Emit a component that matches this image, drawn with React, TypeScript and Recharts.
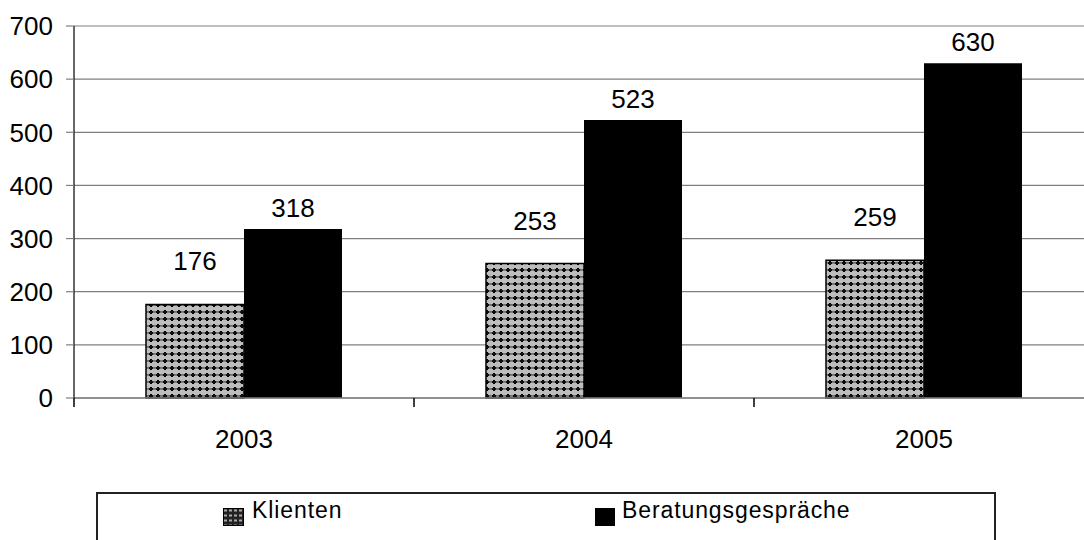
import React from "react";
import { BarChart, Bar, XAxis, YAxis, CartesianGrid, LabelList } from "recharts";

const categories = ["2003", "2004", "2005"];
const klienten = [176, 253, 259];
const beratung = [318, 523, 630];
const yTicks = [0, 100, 200, 300, 400, 500, 600, 700];
const seriesNames = ["Klienten", "Beratungsgespräche"];

const data = categories.map((c, i) => ({
  pos: i + 0.5,
  year: c,
  klienten: klienten[i],
  beratung: beratung[i],
}));

const xTicks: number[] = [];
for (let i = 0; i <= categories.length; i++) {
  xTicks.push(i);
  if (i < categories.length) xTicks.push(i + 0.5);
}

const FONT = "'Liberation Sans', Arial, sans-serif";

const XTick = (props: any) => {
  const { x, y, payload } = props;
  const v = payload.value as number;
  if (Number.isInteger(v)) {
    return <line x1={x} x2={x} y1={y} y2={y + 9} stroke="#000" strokeWidth={1.5} />;
  }
  const label = categories[Math.floor(v)];
  return (
    <text x={x} y={y + 50} textAnchor="middle" fontSize={26} fontFamily={FONT} fill="#000">
      {label}
    </text>
  );
};

const PatternDefs = () => (
  <defs>
    <pattern id="checkPat" width="7" height="7" patternUnits="userSpaceOnUse">
      <rect width="7" height="7" fill="#bdbdbd" />
      <rect x="2" y="3" width="4" height="2" fill="#000" />
      <rect x="3" y="2" width="2" height="4" fill="#000" />
      <rect x="0" y="3.5" width="7" height="0.9" fill="#222" />
    </pattern>
  </defs>
);

export default function App() {
  return (
    <div
      style={{
        position: "absolute",
        left: 0,
        top: 0,
        width: 1084,
        height: 540,
        overflow: "hidden",
        background: "#fff",
        fontFamily: FONT,
      }}
    >
      <BarChart
        width={1100}
        height={540}
        data={data}
        margin={{ top: 26, right: 6, bottom: 82, left: 0 }}
        barGap={0}
        barCategoryGap={72}
      >
        <PatternDefs />
        <CartesianGrid vertical={false} stroke="#808080" strokeWidth={1.2} />
        <XAxis
          dataKey="pos"
          type="number"
          domain={[0, categories.length]}
          ticks={xTicks}
          interval={0}
          tickLine={false}
          tickSize={0}
          tickMargin={0}
          height={60}
          axisLine={{ stroke: "#808080", strokeWidth: 1.5 }}
          tick={<XTick />}
          allowDataOverflow
        />
        <YAxis
          width={74}
          domain={[0, 700]}
          ticks={yTicks}
          interval={0}
          tickSize={8}
          tickMargin={13}
          axisLine={{ stroke: "#000", strokeWidth: 1.2 }}
          tickLine={{ stroke: "#808080", strokeWidth: 1.2 }}
          tick={{ fontSize: 26, fontFamily: FONT, fill: "#000" }}
        />
        <Bar
          dataKey="klienten"
          name={seriesNames[0]}
          fill="url(#checkPat)"
          stroke="#000"
          strokeWidth={1.5}
          isAnimationActive={false}
        >
          <LabelList dataKey="klienten" position="top" offset={34} fontSize={26} fontFamily={FONT} fill="#000" />
        </Bar>
        <Bar dataKey="beratung" name={seriesNames[1]} fill="#000" isAnimationActive={false}>
          <LabelList dataKey="beratung" position="top" offset={12} fontSize={26} fontFamily={FONT} fill="#000" />
        </Bar>
      </BarChart>
      <div
        style={{
          position: "absolute",
          left: 96,
          top: 492,
          width: 900,
          height: 80,
          border: "2px solid #222",
          boxSizing: "border-box",
        }}
      >
        <svg style={{ position: "absolute", left: 125, top: 14 }} width={21} height={18}>
          <defs>
            <pattern id="checkPatL" width="5" height="5" patternUnits="userSpaceOnUse">
              <rect width="5" height="5" fill="#222" />
              <rect x="1" y="1.5" width="3" height="2" fill="#aaa" />
            </pattern>
          </defs>
          <rect x={0.5} y={0.5} width={20} height={17} fill="url(#checkPatL)" stroke="#000" strokeWidth={1} />
        </svg>
        <span style={{ position: "absolute", left: 154, top: 3, fontSize: 23, letterSpacing: 0.9, color: "#000", whiteSpace: "nowrap" }}>
          {seriesNames[0]}
        </span>
        <svg style={{ position: "absolute", left: 497, top: 14 }} width={20} height={18}>
          <rect x={0} y={0} width={20} height={18} fill="#000" />
        </svg>
        <span style={{ position: "absolute", left: 524, top: 3, fontSize: 23, letterSpacing: 0.9, color: "#000", whiteSpace: "nowrap" }}>
          {seriesNames[1]}
        </span>
      </div>
    </div>
  );
}
